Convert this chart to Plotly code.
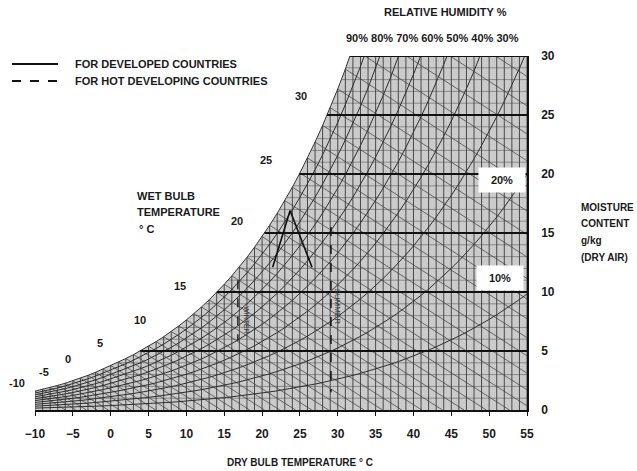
import numpy as np
import plotly.graph_objects as go

# ---- data ----
temps = list(range(-10, 56))  # dry bulb, deg C
# saturation vapour pressure (kPa) at each dry-bulb temperature
pws_kpa = [0.2599, 0.2839, 0.3100, 0.3382, 0.3687, 0.4017, 0.4375, 0.4761, 0.5177, 0.5627,
           0.6112, 0.6571, 0.7060, 0.7581, 0.8135, 0.8726, 0.9354, 1.0021, 1.0730, 1.1482,
           1.2282, 1.3129, 1.4028, 1.4981, 1.5989, 1.7057, 1.8188, 1.9383, 2.0647, 2.1982,
           2.3392, 2.4881, 2.6452, 2.8109, 2.9856, 3.1697, 3.3637, 3.5679, 3.7828, 4.0089,
           4.2467, 4.4966, 4.7592, 5.0351, 5.3247, 5.6286, 5.9475, 6.2818, 6.6324, 6.9997,
           7.3844, 7.7873, 8.2090, 8.6503, 9.1118, 9.5944, 10.099, 10.626, 11.177, 11.752,
           12.352, 12.978, 13.631, 14.312, 15.022, 15.762]
rh_levels = [0.1, 0.2, 0.3, 0.4, 0.5, 0.6, 0.7, 0.8, 0.9]
rh_top_labels = ["90%", "80%", "70%", "60%", "50%", "40%", "30%"]
wb_label_vals = [-10, -5, 0, 5, 10, 15, 20, 25, 30]
wb_label_t = [-12.4, -8.8, -5.6, -1.4, 3.9, 9.2, 16.7, 20.5, 25.2]
wb_label_w = [2.3, 3.2, 4.3, 5.7, 7.6, 10.5, 16.0, 21.2, 26.6]
x_ticks = list(range(-10, 56, 5))
y_ticks = list(range(0, 31, 5))
comfort_solid_t = [21.4, 23.7, 26.6]
comfort_solid_w = [12.1, 16.9, 12.1]
summer_t = [29.1, 29.1]
summer_w = [15.5, 1.5]
winter_t = [16.8, 16.8]
winter_w = [11.0, 5.9]

P = 101.325
T = np.array(temps, dtype=float)
pws = np.array(pws_kpa)
ws = 622.0 * pws / (P - pws)  # g/kg


def seg_trace(xs, ys, color, width, dash="solid"):
    return go.Scatter(x=xs, y=ys, mode="lines", hoverinfo="skip", showlegend=False,
                      line=dict(color=color, width=width, dash=dash))


fig = go.Figure()
# shaded region under saturation curve
fig.add_trace(go.Scatter(x=T, y=ws, mode="lines", fill="tozeroy", fillcolor="#cbcbcb",
                         line=dict(color="#333", width=1.0), hoverinfo="skip", showlegend=False))

# horizontal grid minor (every 1 g/kg)
xs, ys = [], []
for w in range(1, 30):
    if w % 5 == 0:
        continue
    t0 = float(np.interp(w, ws, T))
    xs += [t0, 55, None]
    ys += [w, w, None]
fig.add_trace(seg_trace(xs, ys, "#6e6e6e", 0.7))

# wet-bulb lines
xs, ys = [], []
for tw, w in zip(T, ws):
    if tw > 37:
        break
    wk = w / 1000.0
    t_end = tw + (2501 - 2.326 * tw) * wk / 1.006
    xs += [tw, t_end, None]
    ys += [w, 0, None]
fig.add_trace(seg_trace(xs, ys, "#4a4a4a", 0.8))

# vertical grid (every 1 C)
xs, ys = [], []
for t, w in zip(T, ws):
    xs += [t, t, None]
    ys += [0, min(w, 31), None]
fig.add_trace(seg_trace(xs, ys, "#3a3a3a", 0.9))

# relative humidity curves
for rh in rh_levels:
    wr = 622.0 * rh * pws / (P - rh * pws)
    fig.add_trace(seg_trace(T, wr, "#2e2e2e", 1.0))

# horizontal grid major
xs, ys = [], []
for w in range(5, 31, 5):
    t0 = float(np.interp(w, ws, T))
    xs += [t0, 55, None]
    ys += [w, w, None]
fig.add_trace(seg_trace(xs, ys, "#111", 1.8))

# comfort zones
fig.add_trace(seg_trace(comfort_solid_t, comfort_solid_w, "#111", 1.6))
fig.add_trace(seg_trace(summer_t, summer_w, "#111", 1.5, "dash"))
fig.add_trace(seg_trace(winter_t, winter_w, "#111", 1.3, "dash"))

F = "Liberation Sans"
ann = []
def txt(text, x, y, size=11, xanchor="left", **kw):
    ann.append(dict(text=text, x=x, y=y, xref="paper", yref="paper", showarrow=False,
                    xanchor=xanchor, yanchor="middle",
                    font=dict(family=F, size=size, color="#1a1a1a", weight="bold"), **kw))

# pixel -> paper helpers (plot area 35..527 x, 56..410 y)
px = lambda p: (p - 35) / 492.0
py = lambda p: (410 - p) / 354.0
dx = lambda t: (t + 10) / 65.0
dy = lambda w: w / 30.0

txt("FOR DEVELOPED COUNTRIES", px(73), py(64))
txt("FOR HOT DEVELOPING COUNTRIES", px(73), py(81))
txt("WET BULB", px(135), py(196))
txt("TEMPERATURE", px(135), py(212))
txt("° C", px(137), py(229))
txt("MOISTURE", px(579), py(207), size=10)
txt("CONTENT", px(579), py(224), size=10)
txt("g/kg", px(579), py(240), size=10)
txt("(DRY AIR)", px(579), py(257), size=10)
txt("RELATIVE HUMIDITY %", px(445), py(12), xanchor="center")
txt(" ".join(rh_top_labels), px(432), py(38), xanchor="center")
txt("DRY BULB TEMPERATURE ° C", px(300), py(462), xanchor="center", size=10)
for v, lt, lw in zip(wb_label_vals, wb_label_t, wb_label_w):
    txt(str(v), dx(lt), dy(lw), xanchor="center")
for lab, lt, lw in (("20%", 51.75, 19.45), ("10%", 51.45, 11.2)):
    ann.append(dict(text=lab, x=dx(lt), y=dy(lw), xref="paper", yref="paper", showarrow=False,
                    xanchor="center", yanchor="middle",
                    bgcolor="white", width=44, height=22,
                    font=dict(family=F, size=11, color="#1a1a1a", weight="bold")))
ann.append(dict(text="SUMMER", x=dx(30.0), y=dy(8.8), xref="paper", yref="paper", showarrow=False,
                xanchor="center", yanchor="middle",
                textangle=90, font=dict(family=F, size=8, color="#333")))
ann.append(dict(text="WINTER", x=dx(17.9), y=dy(7.6), xref="paper", yref="paper", showarrow=False,
                xanchor="center", yanchor="middle",
                textangle=90, font=dict(family=F, size=7, color="#333")))

shapes = [
    dict(type="line", xref="paper", yref="paper", x0=px(12), x1=px(58), y0=py(64), y1=py(64),
         line=dict(color="#111", width=2)),
    dict(type="line", xref="paper", yref="paper", x0=px(12), x1=px(58), y0=py(81), y1=py(81),
         line=dict(color="#111", width=2, dash="dash")),
]

fig.update_layout(
    width=637, height=471, margin=dict(l=35, r=110, t=56, b=61),
    paper_bgcolor="white", plot_bgcolor="white",
    annotations=ann, shapes=shapes, showlegend=False,
    xaxis=dict(range=[-10, 55], tickvals=x_ticks, showgrid=False, zeroline=False,
               showline=True, linecolor="#111", linewidth=1.5, ticks="outside", ticklen=4,
               tickcolor="#111", ticklabelstandoff=8,
               tickfont=dict(family=F, size=12, color="#1a1a1a", weight="bold")),
    yaxis=dict(range=[0, 30], side="right", tickvals=y_ticks, showgrid=False, zeroline=False,
               showline=True, linecolor="#111", linewidth=1.5, ticks="", ticklabelstandoff=10,
               tickfont=dict(family=F, size=12, color="#1a1a1a", weight="bold")),
)

fig.write_html("out.html", config={"displayModeBar": False},
               post_script="document.body.style.margin='0';document.body.style.overflow='hidden';")
